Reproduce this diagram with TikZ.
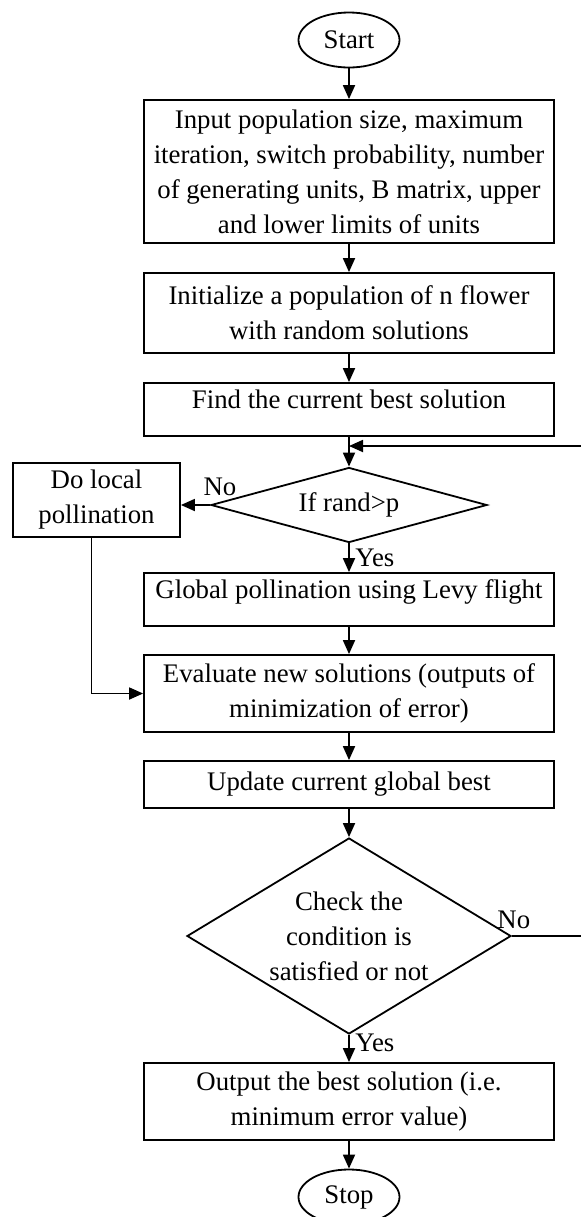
\documentclass[tikz,border=0pt]{standalone}
\usepackage{fontspec}
\setmainfont{Liberation Serif}
\usetikzlibrary{shapes.geometric,arrows.meta}

\begin{document}
\begin{tikzpicture}[x=0.5pt,y=-0.5pt,
		every node/.style={font=\fontsize{13.4}{17.5}\selectfont},
		box/.style={rectangle,draw,line width=0.9pt,minimum width=205pt,inner sep=0pt,align=center},
		padbox/.style={box,text height=12.5pt,text depth=14pt},
		term/.style={ellipse,draw,line width=0.9pt,minimum width=50.5pt,minimum height=27.5pt,inner sep=0pt},
		decide/.style={diamond,draw,line width=0.9pt,inner sep=0pt,align=center},
		flow/.style={line width=0.9pt,-{Triangle[length=7pt,width=6pt]}},
		lbl/.style={inner sep=0pt}]
		\useasboundingbox (0,0) rectangle (581,1217);
%		\draw[help lines,step=50] (0,0) grid (581,1217);
		\path (349,40) coordinate (p_start);
		\path (349,171.5) coordinate (p_input);
		\path (349,313) coordinate (p_init);
		\path (349,409.5) coordinate (p_find);
		\path (349,505) coordinate (p_rand);
		\path (96.5,500) coordinate (p_local);
		\path (349,599.5) coordinate (p_global);
		\path (349,693.5) coordinate (p_eval);
		\path (349,784.5) coordinate (p_update);
		\path (349,936) coordinate (p_check);
		\path (349,1101.5) coordinate (p_output);
		\path (349,1197) coordinate (p_stop);
		\path (583,446) coordinate (back);

		\path (p_start) node(start) [term] {Start};
		\path (p_input) node(input) [box,minimum height=71.5pt]
			{Input population size, maximum\\iteration, switch probability, number\\of generating units, B matrix, upper\\and lower limits of units};
		\path (p_init) node(init) [box,minimum height=40pt]
			{Initialize a population of n flower\\with random solutions};
		\path (p_find) node(find) [padbox] {Find the current best solution};
		\path (p_rand) node(rand) [decide,aspect=3.68,minimum width=138pt,minimum height=37.5pt] {If rand>p};
		\path (p_local) node(dolocal) [box,minimum width=83.5pt,minimum height=37pt] {Do local\\pollination};
		\path (p_global) node(global) [padbox] {Global pollination using Levy flight};
		\path (p_eval) node(eval) [box,minimum height=38.5pt]
			{Evaluate new solutions (outputs of\\minimization of error)};
		\path (p_update) node(update) [box,minimum height=23.5pt] {Update current global best};
		\path (p_check) node(check) [decide,aspect=1.65,minimum width=162pt,minimum height=98pt]
			{Check the\\condition is\\satisfied or not};
		\path (p_output) node(output) [box,minimum height=38.5pt]
			{Output the best solution (i.e.\\minimum error value)};
		\path (p_stop) node(stop) [term] {Stop};

		\path (220,487) node(no1) [lbl] {No};
		\path (355,558) node(yes1) [lbl,anchor=west] {Yes};
		\path (497,920) node(no2) [lbl,anchor=west] {No};
		\path (355,1043) node(yes2) [lbl,anchor=west] {Yes};

		\draw[flow] (start) -- (input);
		\draw[flow] (input) -- (init);
		\draw[flow] (init) -- (find);
		\draw[flow] (find) -- (rand);
		\draw[flow] (rand.west) -- (rand.west -| dolocal.east);
		\draw[flow] (rand) -- (global);
		\draw[flow] ([xshift=-2.5pt]dolocal.south) |- (eval.west);
		\draw[flow] (global) -- (eval);
		\draw[flow] (eval) -- (update);
		\draw[flow] (update) -- (check);
		\draw[flow] (check.east) -| (back) -- (back -| find.south);
		\draw[flow] (check) -- (output);
		\draw[flow] (output) -- (stop);
	\end{tikzpicture}
\end{document}
